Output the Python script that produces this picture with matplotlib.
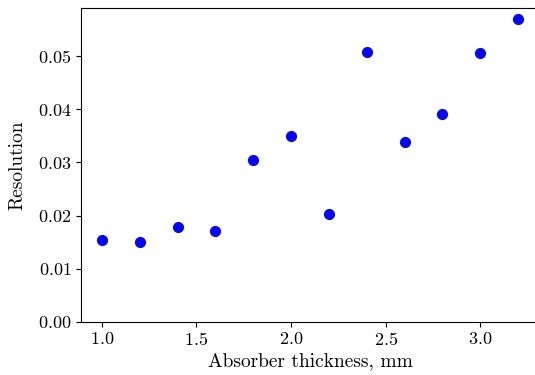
import numpy as np
import matplotlib
matplotlib.use("Agg")
import matplotlib.pyplot as plt

plt.rcParams['font.family'] = 'cmr10'
plt.rcParams['mathtext.fontset'] = 'cm'
plt.rcParams['axes.formatter.use_mathtext'] = True

thickness = [1.0, 1.2, 1.4, 1.6, 1.8, 2.0, 2.2, 2.4, 2.6, 2.8, 3.0, 3.2]
resolution = [0.0154, 0.0150, 0.0178, 0.0171, 0.0304, 0.0350,
              0.0203, 0.0508, 0.0338, 0.0391, 0.0506, 0.0570]

fig = plt.figure(figsize=(5.35, 3.75), dpi=100)
ax = fig.add_axes([0.1514, 0.142, 0.856, 0.8367])

ax.scatter(thickness, resolution, s=50, facecolor='#0505ff', edgecolor='#1010c8', linewidth=1.0)
ax.set_ylim(bottom=0)
ax.set_xlabel('Absorber thickness, mm', fontsize=14, labelpad=3)
ax.set_ylabel('Resolution', fontsize=14, labelpad=8)
ax.tick_params(labelsize=13)

fig.savefig('out.png', dpi=100)
